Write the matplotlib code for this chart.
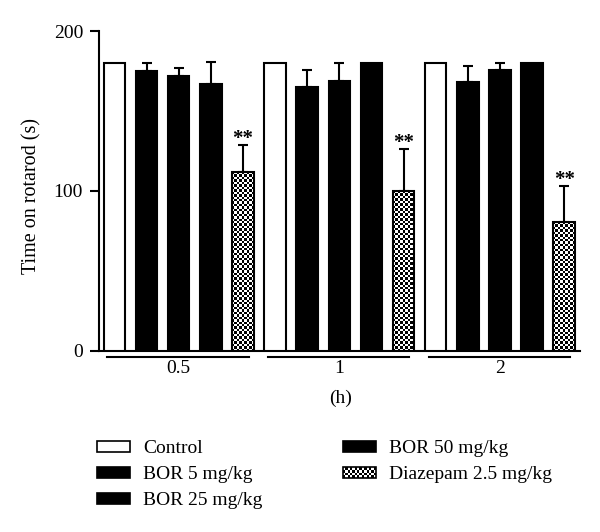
import numpy as np
import matplotlib
matplotlib.use("Agg")
import matplotlib.pyplot as plt
from matplotlib.patches import Rectangle, Patch
from matplotlib.legend_handler import HandlerBase

plt.rcParams['font.family'] = ['Liberation Serif', 'DejaVu Serif']

groups = ['0.5', '1', '2']
series = ['Control', 'BOR 5 mg/kg', 'BOR 25 mg/kg', 'BOR 50 mg/kg',
          'Diazepam 2.5 mg/kg']
# mean time on rotarod (s) per series, one value per time point
control = [180, 180, 180]
bor5 = [175, 165, 168]
bor25 = [172, 169, 176]
bor50 = [167, 180, 180]
diazepam = [112, 100, 80.5]
# upper error (SEM)
control_err = [0, 0, 0]
bor5_err = [5, 11, 10]
bor25_err = [5, 11, 4.5]
bor50_err = [14, 0, 0]
diazepam_err = [17, 26.5, 22.5]
signif = ['', '', '', '', '**']

means = [control, bor5, bor25, bor50, diazepam]
errs = [control_err, bor5_err, bor25_err, bor50_err, diazepam_err]
faces = ['white', 'black', 'black', 'black', 'checker']
FS = 14


class CheckerHandler(HandlerBase):
    #draws a small checkerboard patch in the legend
    def create_artists(self, legend, orig_handle, xdescent, ydescent,
                       width, height, fontsize, trans):
        nx, ny = 14, 4
        x0, y0 = -xdescent, -ydescent
        w, h = width/nx, height/ny
        arts = [Rectangle((x0, y0), width, height, facecolor='white',
                          edgecolor='none', transform=trans)]
        for i in range(nx):
            for j in range(ny):
                if (i + j) % 2 == 0:
                    arts.append(Rectangle((x0 + i*w, y0 + j*h), w, h,
                                          facecolor='black', edgecolor='none',
                                          transform=trans))
        arts.append(Rectangle((x0, y0), width, height, facecolor='none',
                              edgecolor='black', lw=1.2, transform=trans))
        return arts


fig = plt.figure(figsize=(6, 5.32), dpi=100)
ax = fig.add_axes([0.165, 0.341, 0.802, 0.6])

nser = len(series)
width = 0.67
for s in range(nser):
    for g in range(len(groups)):
        x = g*nser + s
        m = means[s][g]
        e = errs[s][g]
        if e > 0:
            ax.errorbar(x, m, yerr=[[0], [e]], fmt='none', ecolor='black',
                        elinewidth=1.5, capsize=3.3, capthick=1.5, zorder=1)
        if faces[s] == 'checker':
            ncol = 9
            nrow = max(int(round(m/1.53)), 1)
            board = np.indices((nrow, ncol)).sum(axis=0) % 2
            bar = ax.bar(x, m, width, facecolor='none', edgecolor='black',
                         linewidth=1.5, zorder=4)[0]
            im = ax.imshow(board, cmap='gray', extent=(x - width/2, x + width/2, 0, m),
                           aspect='auto', interpolation='nearest', zorder=3)
            im.set_clip_path(bar)
        else:
            ax.bar(x, m, width, facecolor=faces[s], edgecolor='black',
                   linewidth=1.5, zorder=3)
        if signif[s]:
            ax.annotate(signif[s], (x, m + e), xytext=(0, -3),
                        textcoords='offset points', ha='center', va='bottom',
                        fontsize=FS + 1, fontweight='bold')

ax.set_xlim(-0.48, len(groups)*nser - 0.5)
ax.set_ylim(0, 200)
ax.set_yticks([0, 100, 200])
ax.set_xticks([g*nser + 2 for g in range(len(groups))])
ax.set_xticklabels(groups)
ax.tick_params(axis='x', length=0, pad=7, labelsize=FS)
ax.tick_params(axis='y', length=6.5, width=1.5, labelsize=FS, pad=5)
for sp in ['top', 'right']:
    ax.spines[sp].set_visible(False)
for sp in ['left', 'bottom']:
    ax.spines[sp].set_linewidth(1.5)

# group underlines
tr = ax.get_xaxis_transform()
for g in range(len(groups)):
    ax.plot([g*nser - 0.22, g*nser + 4.18], [-0.02, -0.02], color='black',
            lw=1.5, transform=tr, clip_on=False)

ax.set_ylabel('Time on rotarod (s)', fontsize=FS + 0.5)
ax.yaxis.set_label_coords(-0.12, 0.484)
ax.set_xlabel('(h)', fontsize=FS)
ax.xaxis.set_label_coords(0.501, -0.123)

handles = []
for s in range(nser):
    if faces[s] == 'checker':
        handles.append(Patch(facecolor='white', edgecolor='black'))
    else:
        handles.append(Patch(facecolor=faces[s], edgecolor='black', lw=1.2))
hmap = {handles[-1]: CheckerHandler()}
fig.legend(handles, series, handler_map=hmap, loc='upper left',
           bbox_to_anchor=(0.162, 0.172), ncol=2, frameon=False,
           fontsize=FS, handlelength=1.7, handleheight=0.5,
           handletextpad=0.65, columnspacing=4.15, labelspacing=0.46,
           borderpad=0, borderaxespad=0)

fig.savefig('out.png', dpi=100)
